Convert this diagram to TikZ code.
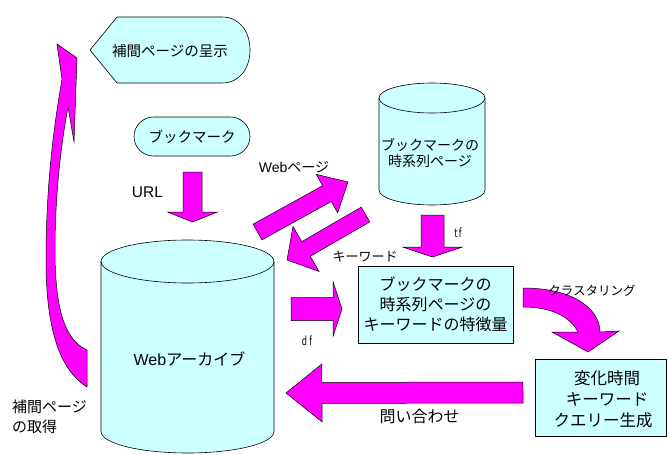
\documentclass[tikz,border=0pt]{standalone}
\usepackage{fontspec}
\setmainfont{Noto Sans CJK JP}
\newfontfamily\latinsf{Liberation Sans}
\usetikzlibrary{calc}
\definecolor{pale}{HTML}{CCFFFF}
\definecolor{mag}{HTML}{FF00FF}
\tikzset{
  shapefill/.style={draw=black, line width=0.6pt, fill=pale},
  magblock/.style={draw=black, line width=0.5pt, fill=mag, line join=miter},
  lbl/.style={inner sep=0pt, font=\fontsize{14}{16}\selectfont},
  small/.style={inner sep=0pt, font=\fontsize{13}{15}\selectfont},
}
% straight block arrow: #1 tail, #2 tip, #3 shaft half-width, #4 head half-width, #5 head length
\newcommand\magarrow[5]{%
  \coordinate (ba-h) at ($(#2)!#5!(#1)$);
  \draw[magblock] ($(#1)!#3!90:(#2)$) -- ($(ba-h)!#3!90:(#2)$) -- ($(ba-h)!#4!90:(#2)$)
    -- (#2) -- ($(ba-h)!#4!-90:(#2)$) -- ($(ba-h)!#3!-90:(#2)$) -- ($(#1)!#3!-90:(#2)$) -- cycle;}

\begin{document}
\begin{tikzpicture}[x=1pt,y=-1pt]
\fill[white] (0,0) rectangle (667,455);

% display shape
\draw[shapefill] (90,50) -- (117,17) -- (222,17) .. controls (240,17) and (250,32) .. (250,50)
  .. controls (250,68) and (240,83) .. (222,83) -- (117,83) -- cycle;
\node[inner sep=0pt, font=\fontsize{14.5}{16}\selectfont] (disp) at (170,51) {補間ページの呈示};

% bookmark terminal
\node[shapefill, rounded corners=19.5pt, minimum width=116pt, minimum height=39pt, inner sep=0pt,
      font=\fontsize{14.5}{16}\selectfont] (bm) at (192,136.5) {ブックマーク};

% web archive cylinder (y axis points down, so angle 90 is the lower side)
\draw[shapefill] (101,261.5) -- (101,431.5) arc[start angle=180, end angle=0, x radius=86.5, y radius=21.5]
  -- (274,261.5) arc[start angle=0, end angle=-180, x radius=86.5, y radius=21.5] -- cycle;
\draw[black, line width=0.6pt] (101,261.5) arc[start angle=180, end angle=0, x radius=86.5, y radius=21.5];
\node[inner sep=0pt, font=\fontsize{16}{18}\selectfont] (arch) at (189.5,359) {{\latinsf Web}アーカイブ};

% bookmark time-series cylinder
\draw[shapefill] (379,98) -- (379,190) arc[start angle=180, end angle=0, x radius=53, y radius=15]
  -- (485,98) arc[start angle=0, end angle=-180, x radius=53, y radius=15] -- cycle;
\draw[black, line width=0.6pt] (379,98) arc[start angle=180, end angle=0, x radius=53, y radius=15];
\node[inner sep=0pt, align=center, font=\fontsize{14}{15.5}\selectfont] (ts) at (430,153) {ブックマークの\\時系列ページ};

% feature box
\node[shapefill, minimum width=155pt, minimum height=77pt, inner sep=0pt, align=center,
      font=\fontsize{16}{20}\selectfont] (feat) at (435.5,304.5) {ブックマークの\\時系列ページの\\キーワードの特徴量};

% query generation box
\node[shapefill, minimum width=131pt, minimum height=77pt, inner sep=0pt] (qry) at (600.5,397.5) {};
\node[inner sep=0pt, align=center, font=\fontsize{16.5}{21}\selectfont] (qrytxt) at (603,399) {\hspace*{8pt}変化時間\\\hspace*{8pt}キーワード\\クエリー生成};

% arrow end points
\coordinate (urlT) at (192.5,172);  \coordinate (urlH) at (192.5,222);
\coordinate (webT) at (257.5,232);  \coordinate (webH) at (348,182);
\coordinate (kwT)  at (365.5,214.5); \coordinate (kwH) at (287,260);
\coordinate (tfT)  at (432.5,215);  \coordinate (tfH)  at (432.5,257);
\coordinate (dfT)  at (291,309);    \coordinate (dfH)  at (342,309);
\coordinate (qT)   at (523,392.5);  \coordinate (qH)   at (286,393);

\magarrow{urlT}{urlH}{9.5pt}{25pt}{10pt}
\magarrow{webT}{webH}{9pt}{22pt}{24pt}
\magarrow{kwT}{kwH}{8.5pt}{26pt}{22pt}
\magarrow{tfT}{tfH}{11.5pt}{30pt}{10pt}
\magarrow{dfT}{dfH}{11.5pt}{27.5pt}{9pt}
\magarrow{qT}{qH}{10.5pt}{29pt}{36pt}

% curved arrow back to the display
\draw[magblock] (87,387) .. controls (60,370) and (46,330) .. (46,260)
  .. controls (46,180) and (55,120) .. (62,79) -- (57,44) -- (77,58) -- (74,142) -- (68,107)
  .. controls (60,150) and (55,200) .. (55,250) .. controls (55,310) and (65,340) .. (87,350) -- cycle;

% clustering arrow
\draw[magblock] (523,288) .. controls (575,288) and (600,310) .. (600,332) -- (619,331) -- (588,352)
  -- (552,332) -- (578,332) .. controls (570,316) and (550,307) .. (523,307) -- cycle;

% labels
\node[inner sep=0pt, font=\latinsf\fontsize{15.5}{18}\selectfont] (lurl) at (147.5,192) {URL};
\node[inner sep=0pt, font=\fontsize{14}{16}\selectfont] (lweb) at (294,167) {{\latinsf Web}ページ};
\node[small] (lkw) at (365,257) {キーワード};
\node[inner sep=0pt, font=\fontsize{12}{14}\selectfont] (ltf) at (458,233) {\scalebox{0.7}[1]{t\,f}};
\node[inner sep=0pt, font=\fontsize{12}{14}\selectfont] (ldf) at (307,341) {\scalebox{0.7}[1]{d\;f}};
\node[inner sep=0pt, font=\fontsize{12.5}{14}\selectfont] (lcl) at (592,291) {クラスタリング};
\node[inner sep=0pt, font=\fontsize{16}{18}\selectfont] (lq) at (419.5,416) {問い合わせ};
\node[inner sep=0pt, align=left, anchor=west, font=\fontsize{15}{20}\selectfont] (lget) at (12,416.5) {補間ページ\\の取得};
\end{tikzpicture}
\end{document}
